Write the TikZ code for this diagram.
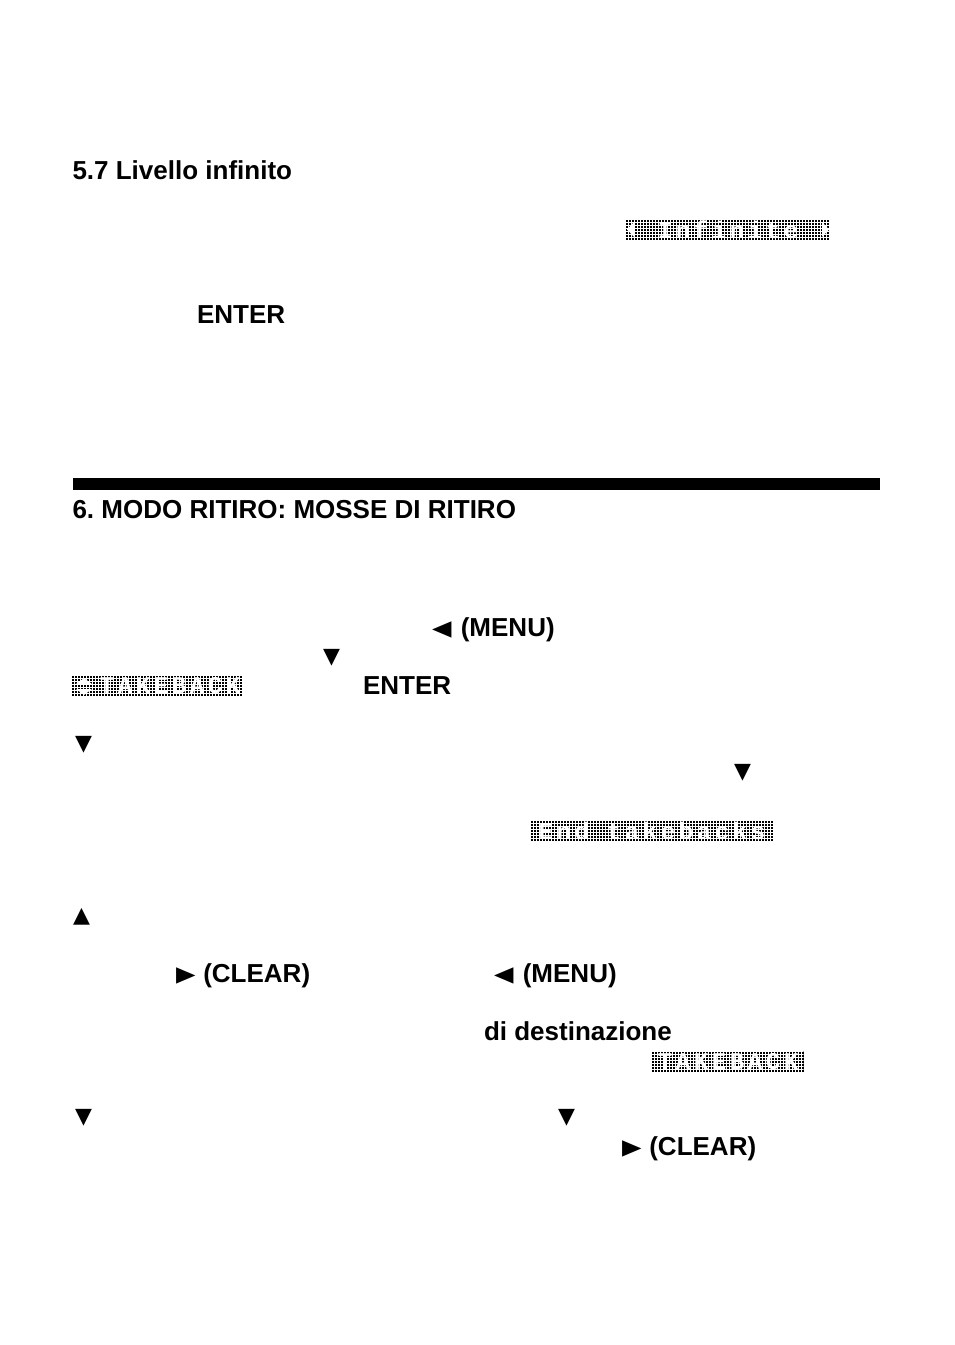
\documentclass[tikz,border=0pt]{standalone}
\usepackage{graphicx}
\usepackage{fontspec}
\setmainfont{Liberation Sans}
\newfontfamily\symfont{DejaVu Sans}
\newfontfamily\lcdfont[LetterSpace=15]{Liberation Mono}
\newcommand{\tridown}{{\symfont\fontsize{16.5pt}{17pt}\selectfont ▼}}
\newcommand{\triup}{{\symfont\fontsize{16.5pt}{17pt}\selectfont ▲}}
\newcommand{\trileft}{{\symfont\fontsize{19pt}{19pt}\selectfont\raisebox{-1.5pt}{\scalebox{1}[1.3]{◄}}}}
\newcommand{\triright}{{\symfont\fontsize{19pt}{19pt}\selectfont\raisebox{-1.5pt}{\scalebox{1}[1.3]{►}}}}
\tikzset{
  lbl/.style={anchor=base west,inner sep=0pt,outer sep=0pt,font=\fontsize{19.5pt}{21pt}\selectfont\bfseries\frenchspacing},
  lcdtext/.style={anchor=center,inner sep=0pt,text=white,font=\lcdfont\bfseries\fontsize{18pt}{18pt}\selectfont},
  lcdbg/.style={fill=black,draw=none}
}
\newcommand{\lcdpanel}[5]{%
  \fill[lcdbg] (#2,#3) rectangle (#4,#5);
  \coordinate (#1) at ({(#2+#4)/2},{(#3+#5)/2});
}
\newcommand{\lcdgrid}[4]{%
  \begin{scope}
    \clip (#1,#2) rectangle (#3,#4);
    \pgfmathsetmacro{\nx}{int((#3-#1)/3)}
    \pgfmathsetmacro{\ny}{int((#4-#2)/3)}
    \foreach \i in {0,...,\nx} \draw[white,line width=0.4pt] ({#1+3*\i},#2) -- ({#1+3*\i},#4);
    \foreach \j in {0,...,\ny} \draw[white,line width=0.4pt] (#1,{#2+3*\j}) -- (#3,{#2+3*\j});
  \end{scope}
}
\begin{document}
\begin{tikzpicture}[x=0.75pt,y=-0.75pt]
\useasboundingbox (0,0) rectangle (954,1345);
\fill[white] (0,0) rectangle (954,1345);

\node[lbl] (h57) at (72.5,179.5) {5.7 Livello infinito};
\node[lbl] (enter1) at (197,323) {ENTER};
\fill[black] (73,478) rectangle (880,490);
\node[lbl] (h6) at (72.5,518) {6. MODO RITIRO: MOSSE DI RITIRO};

\node[lbl] (menu1) at (432,636) {\trileft\hspace{7pt}(MENU)};
\node[lbl] (d1) at (323,663) {\tridown};
\node[lbl] (enter2) at (363,694) {ENTER};
\node[lbl] (d2) at (75,750) {\tridown};
\node[lbl] (d3) at (734,778) {\tridown};
\node[lbl] (u1) at (73,922) {\triup};
\node[lbl] (clear1) at (176.5,982) {\triright\hspace{5.5pt}(CLEAR)};
\node[lbl] (menu2) at (494,982) {\trileft\hspace{7pt}(MENU)};
\node[lbl] (dest) at (484,1040) {di destinazione};
\node[lbl] (d4) at (75,1123) {\tridown};
\node[lbl] (d5) at (558,1123) {\tridown};
\node[lbl] (clear2) at (622.5,1155) {\triright\hspace{5.5pt}(CLEAR)};

% LCD 1
\lcdpanel{a}{625.5}{219}{830}{240}
\lcdgrid{625.5}{219}{830}{240}
\node[lcdtext] (lcdinf) at (728,229.5) {Infinite};
\fill[white] (627,229.5) -- (634,222) -- (634,237) -- cycle;
\fill[white] (829,229.5) -- (822,222) -- (822,237) -- cycle;

% LCD 2
\lcdpanel{b}{71.5}{675.5}{243}{696.5}
\lcdgrid{71.5}{675.5}{243}{696.5}
\node[lcdtext] (lcdtb1) at (170,686) {TAKEBACK};
\fill[white] (76,684) -- (84,678) -- (92,684) -- cycle;
\fill[white] (76,689) -- (84,695) -- (92,689) -- cycle;

% LCD 3
\lcdpanel{c}{530.5}{820}{773}{841}
\lcdgrid{530.5}{820}{773}{841}
\node[lcdtext] (lcdend) at (652,830.5) {End takebacks};

% LCD 4
\lcdpanel{d}{651.5}{1051}{803.5}{1072}
\lcdgrid{651.5}{1051}{803.5}{1072}
\node[lcdtext] (lcdtb2) at (728,1061.5) {TAKEBACK};
\end{tikzpicture}
\end{document}
